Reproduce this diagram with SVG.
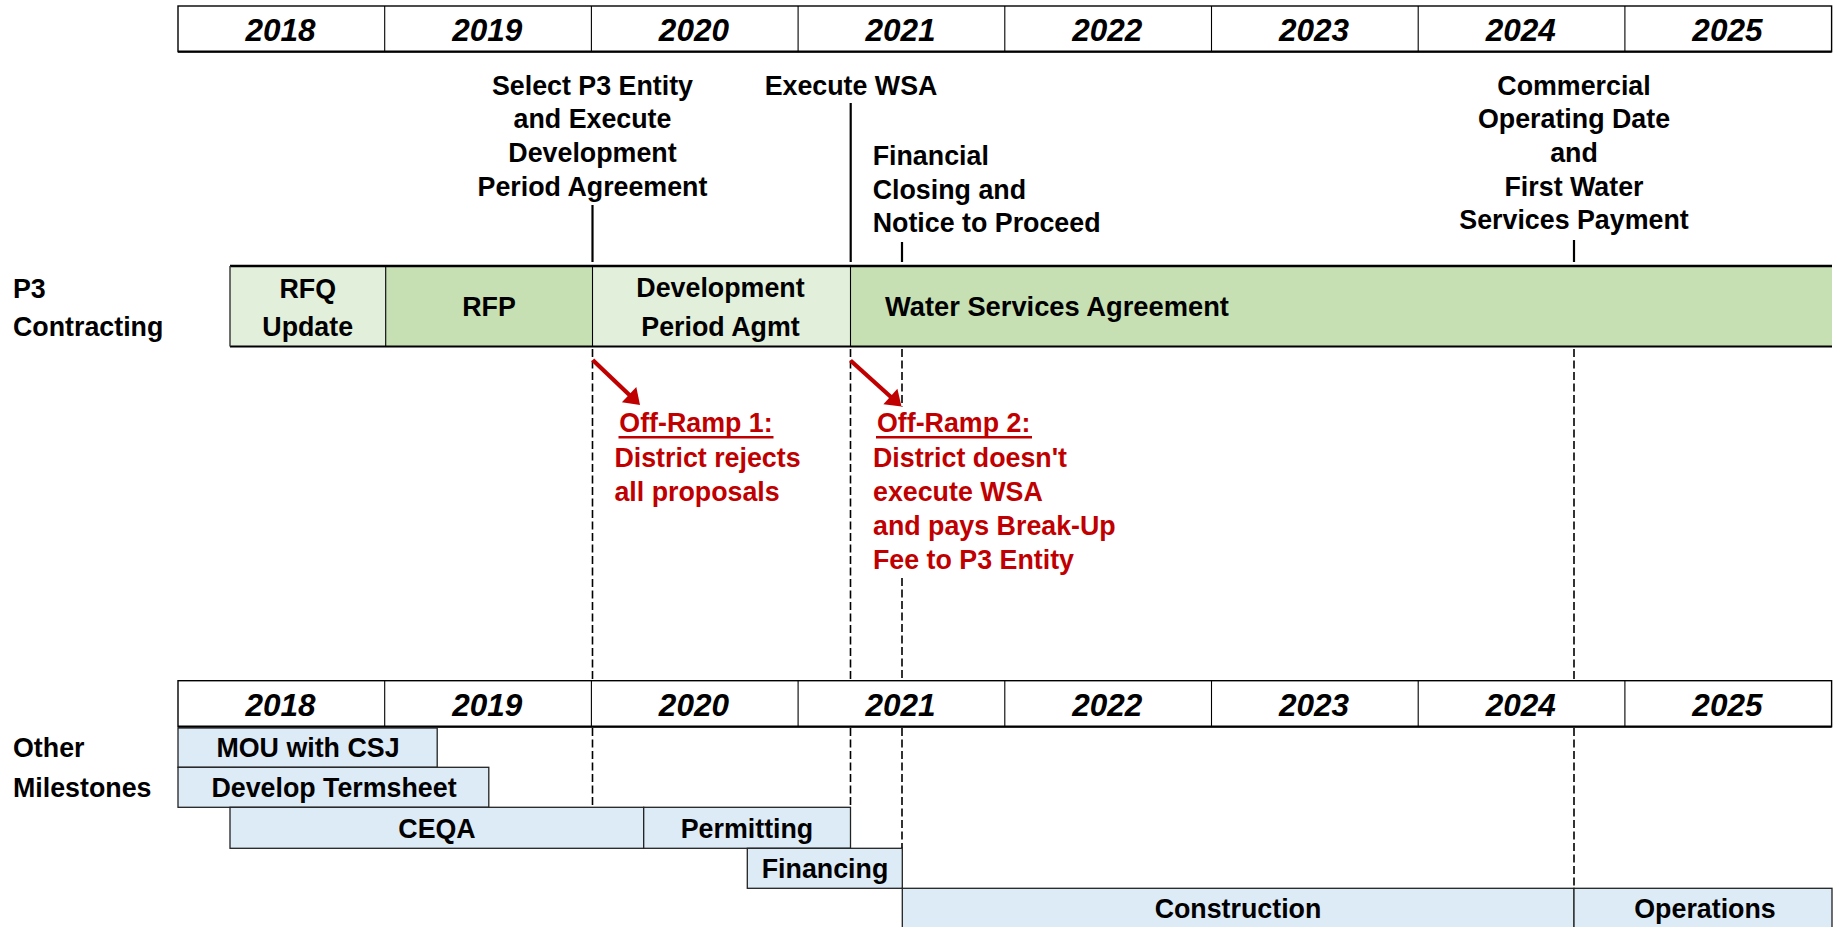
<svg xmlns="http://www.w3.org/2000/svg" width="1839" height="927" viewBox="0 0 1839 927">
<style>
.t{font-family:'Liberation Sans',Arial,sans-serif;font-weight:bold;font-size:26.8px;fill:#000}
.yr{font-style:italic;font-size:31.5px;text-anchor:middle}
.c{text-anchor:middle}
.red{fill:#C00000}
.uline{stroke:#C00000;stroke-width:2.4}
.hdr{fill:#fff;stroke:#000;stroke-width:1.4}
.div{stroke:#000;stroke-width:1.1}
.lg{fill:#E2EFDA}
.dg{fill:#C6E0B4}
.bl{fill:#DDEBF7;stroke:#222;stroke-width:1.3}
.dash{stroke:#000;stroke-width:1.6;stroke-dasharray:8 3.5;fill:none}
.solid{stroke:#000;stroke-width:2.2}
.arr{stroke:#C00000;stroke-width:4.2}
.ah{fill:#C00000}
</style>

<g id="header-top">
<rect class="hdr" x="178" y="6" width="1653.6" height="45.7"/>
<line x1="178" y1="51.7" x2="1831.6" y2="51.7" stroke="#000" stroke-width="2.2"/>
<line class="div" x1="384.7" y1="6" x2="384.7" y2="51.7"/>
<line class="div" x1="591.4" y1="6" x2="591.4" y2="51.7"/>
<line class="div" x1="798.1" y1="6" x2="798.1" y2="51.7"/>
<line class="div" x1="1004.8" y1="6" x2="1004.8" y2="51.7"/>
<line class="div" x1="1211.5" y1="6" x2="1211.5" y2="51.7"/>
<line class="div" x1="1418.2" y1="6" x2="1418.2" y2="51.7"/>
<line class="div" x1="1624.9" y1="6" x2="1624.9" y2="51.7"/>
<text class="t yr" x="280.5" y="41">2018</text>
<text class="t yr" x="487.2" y="41">2019</text>
<text class="t yr" x="693.9" y="41">2020</text>
<text class="t yr" x="900.6" y="41">2021</text>
<text class="t yr" x="1107.3" y="41">2022</text>
<text class="t yr" x="1314" y="41">2023</text>
<text class="t yr" x="1520.7" y="41">2024</text>
<text class="t yr" x="1727.4" y="41">2025</text>
</g>

<g id="header-bottom">
<rect class="hdr" x="178" y="680.7" width="1653.6" height="46"/>
<line x1="178" y1="726.7" x2="1831.6" y2="726.7" stroke="#000" stroke-width="2.2"/>
<line class="div" x1="384.7" y1="680.7" x2="384.7" y2="726.7"/>
<line class="div" x1="591.4" y1="680.7" x2="591.4" y2="726.7"/>
<line class="div" x1="798.1" y1="680.7" x2="798.1" y2="726.7"/>
<line class="div" x1="1004.8" y1="680.7" x2="1004.8" y2="726.7"/>
<line class="div" x1="1211.5" y1="680.7" x2="1211.5" y2="726.7"/>
<line class="div" x1="1418.2" y1="680.7" x2="1418.2" y2="726.7"/>
<line class="div" x1="1624.9" y1="680.7" x2="1624.9" y2="726.7"/>
<text class="t yr" x="280.5" y="715.5">2018</text>
<text class="t yr" x="487.2" y="715.5">2019</text>
<text class="t yr" x="693.9" y="715.5">2020</text>
<text class="t yr" x="900.6" y="715.5">2021</text>
<text class="t yr" x="1107.3" y="715.5">2022</text>
<text class="t yr" x="1314" y="715.5">2023</text>
<text class="t yr" x="1520.7" y="715.5">2024</text>
<text class="t yr" x="1727.4" y="715.5">2025</text>
</g>

<g id="label-p3">
<text class="t" x="13" y="298">P3</text>
<text class="t" x="13" y="336">Contracting</text>
</g>
<g id="label-other">
<text class="t" x="13" y="757">Other</text>
<text class="t" x="13" y="797">Milestones</text>
</g>

<g id="bar-rfq">
<rect class="lg" x="230" y="266" width="155.7" height="80.5"/>
<text class="t c" x="307.7" y="298.3">RFQ</text>
<text class="t c" x="307.7" y="335.5">Update</text>
</g>
<g id="bar-rfp">
<rect class="dg" x="385.7" y="266" width="206.8" height="80.5"/>
<text class="t c" x="489" y="316">RFP</text>
</g>
<g id="bar-dpa">
<rect class="lg" x="592.5" y="266" width="258" height="80.5"/>
<text class="t c" x="720.5" y="297">Development</text>
<text class="t c" x="720.5" y="336">Period Agmt</text>
</g>
<g id="bar-wsa">
<rect class="dg" x="850.5" y="266" width="981.5" height="80.5"/>
<text class="t" x="885" y="316" style="font-size:27.3px">Water Services Agreement</text>
</g>
<g id="bar-borders">
<line x1="230" y1="266" x2="1832" y2="266" stroke="#000" stroke-width="2.6"/>
<line x1="230" y1="346.5" x2="1832" y2="346.5" stroke="#000" stroke-width="2"/>
<line x1="230" y1="266" x2="230" y2="346.5" stroke="#333" stroke-width="1.4"/>
<line class="div" x1="385.7" y1="266" x2="385.7" y2="346.5"/>
<line class="div" x1="592.5" y1="266" x2="592.5" y2="346.5"/>
<line class="div" x1="850.5" y1="266" x2="850.5" y2="346.5"/>
</g>

<g id="ms-select">
<text class="t c" x="592.5" y="94.5">Select P3 Entity</text>
<text class="t c" x="592.5" y="128.2">and Execute</text>
<text class="t c" x="592.5" y="161.9">Development</text>
<text class="t c" x="592.5" y="195.6">Period Agreement</text>
</g>
<g id="ms-execute">
<text class="t c" x="851" y="94.5">Execute WSA</text>
</g>
<g id="ms-financial">
<text class="t" x="872.7" y="165">Financial</text>
<text class="t" x="872.7" y="198.5">Closing and</text>
<text class="t" x="872.7" y="232">Notice to Proceed</text>
</g>
<g id="ms-cod">
<text class="t c" x="1574" y="94.5">Commercial</text>
<text class="t c" x="1574" y="128.2">Operating Date</text>
<text class="t c" x="1574" y="161.9">and</text>
<text class="t c" x="1574" y="195.6">First Water</text>
<text class="t c" x="1574" y="229.3">Services Payment</text>
</g>

<g id="offramp-1">
<text class="t red" x="619.3" y="431.7">Off-Ramp 1:</text>
<line class="uline" x1="618.5" y1="437.3" x2="773.5" y2="437.3"/>
<text class="t red" x="614.4" y="466.5">District rejects</text>
<text class="t red" x="614.4" y="500.5">all proposals</text>
</g>
<g id="offramp-2">
<text class="t red" x="877" y="431.7">Off-Ramp 2:</text>
<line class="uline" x1="876" y1="437.3" x2="1032" y2="437.3"/>
<text class="t red" x="873" y="466.5">District doesn't</text>
<text class="t red" x="873" y="500.5">execute WSA</text>
<text class="t red" x="873" y="534.5">and pays Break-Up</text>
<text class="t red" x="873" y="568.8">Fee to P3 Entity</text>
</g>

<g id="row-mou">
<rect class="bl" x="178" y="728" width="259.2" height="39.3"/>
<text class="t c" x="308" y="757">MOU with CSJ</text>
</g>
<g id="row-termsheet">
<rect class="bl" x="178" y="767.3" width="310.8" height="40"/>
<text class="t c" x="334" y="797">Develop Termsheet</text>
</g>
<g id="row-ceqa">
<rect class="bl" x="230" y="807.3" width="413.7" height="41"/>
<text class="t c" x="437" y="837.5">CEQA</text>
</g>
<g id="row-permitting">
<rect class="bl" x="643.7" y="807.3" width="206.8" height="41"/>
<text class="t c" x="747" y="837.5">Permitting</text>
</g>
<g id="row-financing">
<rect class="bl" x="747.3" y="848.3" width="155" height="40"/>
<text class="t c" x="825" y="878.3">Financing</text>
</g>
<g id="row-construction">
<rect class="bl" x="902.3" y="888.3" width="671.7" height="45"/>
<text class="t c" x="1238" y="918.3">Construction</text>
</g>
<g id="row-operations">
<rect class="bl" x="1574" y="888.3" width="258" height="45"/>
<text class="t c" x="1705" y="918.3">Operations</text>
</g>

<g id="connectors">
<line class="solid" x1="592.5" y1="205" x2="592.5" y2="262"/>
<line class="solid" x1="850.7" y1="103" x2="850.7" y2="262"/>
<line class="solid" x1="902" y1="242" x2="902" y2="262"/>
<line class="solid" x1="1574" y1="240" x2="1574" y2="262"/>
<line class="dash" x1="592.5" y1="349" x2="592.5" y2="680"/>
<line class="dash" x1="850.5" y1="349" x2="850.5" y2="680"/>
<line class="dash" x1="902" y1="349" x2="902" y2="407"/>
<line class="dash" x1="902" y1="578" x2="902" y2="680"/>
<line class="dash" x1="1574" y1="349" x2="1574" y2="680"/>
<line class="dash" x1="592.5" y1="728" x2="592.5" y2="807"/>
<line class="dash" x1="850.5" y1="728" x2="850.5" y2="807"/>
<line class="dash" x1="902" y1="728" x2="902" y2="848"/>
<line class="dash" x1="1574" y1="728" x2="1574" y2="888"/>
<line class="arr" x1="592.7" y1="360" x2="631.3" y2="396.7"/>
<polygon class="ah" points="640,405 621.9,402.3 636.3,387.1"/>
<line class="arr" x1="850.5" y1="360.5" x2="892.6" y2="398.5"/>
<polygon class="ah" points="901.5,406.5 883.4,404.3 897.4,388.7"/>
</g>
</svg>
